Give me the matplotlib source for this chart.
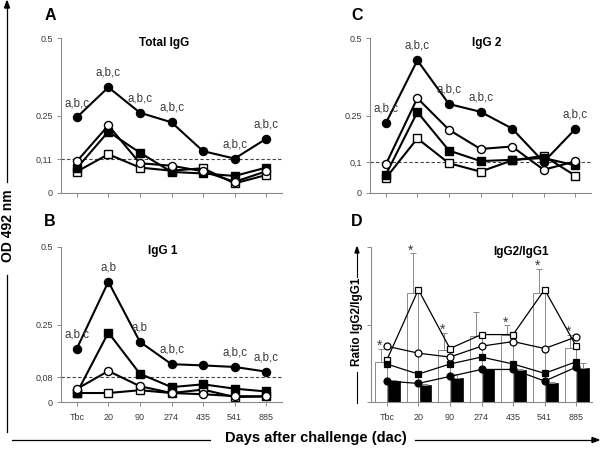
import matplotlib
matplotlib.use('Agg')
import matplotlib.pyplot as plt
import numpy as np

plt.rcParams['font.family'] = ['Liberation Sans', 'DejaVu Sans']

# categories (days after challenge)
days = ['Tbc', '20', '90', '274', '435', '541', '885']

# Panel A - Total IgG (OD 492 nm)
a_fill_circ = [0.244, 0.341, 0.259, 0.228, 0.135, 0.111, 0.175]
a_open_circ = [0.102, 0.218, 0.096, 0.088, 0.070, 0.036, 0.070]
a_fill_sq = [0.080, 0.198, 0.130, 0.068, 0.063, 0.055, 0.082]
a_open_sq = [0.069, 0.125, 0.082, 0.072, 0.080, 0.031, 0.058]
a_cut = 0.11
a_labels = ['a,b,c', 'a,b,c', 'a,b,c', 'a,b,c', '', 'a,b,c', 'a,b,c']

# Panel B - IgG 1
b_fill_circ = [0.172, 0.388, 0.194, 0.122, 0.118, 0.113, 0.098]
b_open_circ = [0.042, 0.100, 0.051, 0.029, 0.025, 0.019, 0.018]
b_fill_sq = [0.029, 0.224, 0.091, 0.048, 0.057, 0.043, 0.034]
b_open_sq = [0.029, 0.029, 0.038, 0.029, 0.040, 0.016, 0.018]
b_cut = 0.08
b_labels = ['a,b,c', 'a,b', 'a,b', 'a,b,c', '', 'a,b,c', 'a,b,c']

# Panel C - IgG 2
c_fill_circ = [0.225, 0.428, 0.287, 0.262, 0.208, 0.100, 0.206]
c_open_circ = [0.092, 0.306, 0.204, 0.142, 0.150, 0.075, 0.102]
c_fill_sq = [0.059, 0.261, 0.137, 0.103, 0.107, 0.113, 0.089]
c_open_sq = [0.048, 0.176, 0.096, 0.069, 0.105, 0.120, 0.056]
c_cut = 0.1
c_labels = ['a,b,c', 'a,b,c', 'a,b,c', 'a,b,c', '', '', 'a,b,c']

# Panel D - IgG2/IgG1 ratio
d_open_bar = [0.51, 1.41, 0.67, 0.85, 0.87, 1.41, 0.70]
d_open_err = [0.18, 0.51, 0.22, 0.31, 0.12, 0.31, 0.17]
d_fill_bar = [0.27, 0.22, 0.31, 0.42, 0.41, 0.25, 0.44]
d_fill_err = [0.02, 0.01, 0.05, 0.01, 0.01, 0.01, 0.06]
d_stars = ['*', '*', '*', '', '*', '*', '*']
d_open_sq = [0.54, 1.45, 0.69, 0.87, 0.87, 1.45, 0.72]
d_open_circ = [0.72, 0.63, 0.58, 0.72, 0.78, 0.69, 0.84]
d_fill_sq = [0.49, 0.36, 0.49, 0.58, 0.49, 0.37, 0.52]
d_fill_circ = [0.27, 0.24, 0.33, 0.42, 0.42, 0.27, 0.45]

W, H = 600, 451
fig = plt.figure(figsize=(6, 4.51), dpi=100)


def fbox(x0, y0, x1, y1):
    return [x0 / W, 1 - y1 / H, (x1 - x0) / W, (y1 - y0) / H]


def fx(x):
    return x / W


def fy(y):
    return 1 - y / H


GRAY = '#8a8a8a'
TXT = '#3a3a3a'


def style_axes(ax, yticks, yticklabels, ymax):
    for s in ['top', 'right']:
        ax.spines[s].set_visible(False)
    for s in ['left', 'bottom']:
        ax.spines[s].set_color(GRAY)
        ax.spines[s].set_linewidth(0.8)
    ax.set_xlim(-0.5, 6.5)
    ax.set_ylim(0, ymax)
    ax.set_xticks(range(len(days)))
    ax.set_xticklabels(days)
    ax.set_yticks(yticks)
    ax.set_yticklabels(yticklabels)
    ax.tick_params(axis='both', colors=GRAY, labelcolor=TXT, labelsize=6.5,
                   length=3, width=0.7, pad=3)
    ax.tick_params(axis='x', pad=5)


def panel_title(ax, text, xpos, ypos):
    ax.text(xpos, ypos, text, transform=ax.transAxes, fontsize=8.5, fontweight='bold',
            ha='center', va='center')


def line_panel(ax, fc, oc, fs, os_, cut, labels, yticks, ytl, show_x):
    x = np.arange(len(days))
    kw = dict(color='black', lw=1.5, ms=5.8, mew=1.0, mec='black')
    ax.plot(x, os_, marker='s', mfc='white', **kw)
    ax.plot(x, fs, marker='s', mfc='black', **kw)
    ax.plot(x, oc, marker='o', mfc='white', **kw)
    ax.plot(x, fc, marker='o', mfc='black', **kw)
    ax.axhline(cut, color='#444444', lw=0.8, ls=(0, (3, 2)), zorder=1)
    for i, lab in enumerate(labels):
        if lab:
            ax.annotate(lab, (x[i], fc[i]), xytext=(0, 6), textcoords='offset points',
                        ha='center', va='bottom', fontsize=8.3, color=TXT)
    style_axes(ax, yticks, ytl, 0.5)
    ax.tick_params(axis='x', labelbottom=show_x)


axA = fig.add_axes(fbox(61, 38, 282, 193))
line_panel(axA, a_fill_circ, a_open_circ, a_fill_sq, a_open_sq, a_cut, a_labels,
           [0, 0.11, 0.25, 0.5], ['0', '0,11', '0.25', '0.5'], False)
panel_title(axA, 'Total IgG', 0.466, 0.965)

axB = fig.add_axes(fbox(61, 247, 282, 402))
line_panel(axB, b_fill_circ, b_open_circ, b_fill_sq, b_open_sq, b_cut, b_labels,
           [0, 0.08, 0.25, 0.5], ['0', '0,08', '0.25', '0.5'], True)
panel_title(axB, 'IgG 1', 0.46, 0.975)

axC = fig.add_axes(fbox(370, 38, 591, 193))
line_panel(axC, c_fill_circ, c_open_circ, c_fill_sq, c_open_sq, c_cut, c_labels,
           [0, 0.1, 0.25, 0.5], ['0', '0,1', '0.25', '0.5'], False)
panel_title(axC, 'IgG 2', 0.53, 0.965)

# Panel D
axD = fig.add_axes(fbox(371, 247, 592, 402))
x = np.arange(len(days))
bw = 0.37
axD.bar(x - bw, d_open_bar, width=bw, align='edge', color='white',
        edgecolor=GRAY, lw=0.7, zorder=2)
axD.errorbar(x - bw / 2, d_open_bar, yerr=[np.zeros(7), d_open_err], fmt='none',
             ecolor=GRAY, elinewidth=0.7, capsize=2, capthick=0.7, zorder=2)
axD.bar(x + 0.04, d_fill_bar, width=bw, align='edge', color='black',
        edgecolor='black', lw=0.5, zorder=2)
axD.errorbar(x + 0.04 + bw / 2, d_fill_bar, yerr=[np.zeros(7), d_fill_err], fmt='none',
             ecolor=GRAY, elinewidth=0.7, capsize=2, capthick=0.7, zorder=2)
for i, s in enumerate(d_stars):
    if s:
        axD.annotate(s, (x[i] - bw / 2 - 0.05, d_open_bar[i] + d_open_err[i]),
                     xytext=(0, -3), textcoords='offset points', ha='center',
                     va='bottom', fontsize=10, color=TXT)
kwd = dict(color='black', lw=0.9, ms=5.0, mew=0.9, mec='black', zorder=3)
axD.plot(x, d_open_sq, marker='s', mfc='white', **kwd)
axD.plot(x, d_open_circ, marker='o', mfc='white', **kwd)
axD.plot(x, d_fill_sq, marker='s', mfc='black', **kwd)
axD.plot(x, d_fill_circ, marker='o', mfc='black', **kwd)
style_axes(axD, [0, 1, 2], ['', '', ''], 2)
panel_title(axD, 'IgG2/IgG1', 0.68, 0.965)

# panel letters
for lab, px, py in [('A', 50, 15), ('B', 50, 222), ('C', 357, 15), ('D', 357, 222)]:
    fig.text(fx(px), fy(py), lab, fontsize=11.5, fontweight='bold', ha='center', va='center')

# big axis labels with arrows
fig.text(fx(8), fy(226), 'OD 492 nm', rotation=90, fontsize=10, fontweight='bold',
         ha='center', va='center')
fig.add_artist(plt.Line2D([fx(7), fx(7)], [fy(432), fy(275)], color='black', lw=0.9))
fig.add_artist(plt.Line2D([fx(7), fx(7)], [fy(182), fy(8)], color='black', lw=0.9))
fig.add_artist(plt.Polygon([[fx(4.5), fy(8)], [fx(9.5), fy(8)], [fx(7), fy(1)]],
                           closed=True, color='black', transform=fig.transFigure))

fig.text(fx(316), fy(438), 'Days after challenge (dac)', fontsize=10.5, fontweight='bold',
         ha='center', va='center')
fig.add_artist(plt.Line2D([fx(12), fx(210)], [fy(440), fy(440)], color='black', lw=0.9))
fig.add_artist(plt.Line2D([fx(415), fx(592)], [fy(440), fy(440)], color='black', lw=0.9))
fig.add_artist(plt.Polygon([[fx(592), fy(437.5)], [fx(592), fy(442.5)], [fx(599), fy(440)]],
                           closed=True, color='black', transform=fig.transFigure))

# ratio label on panel D
fig.text(fx(357), fy(322), 'Ratio IgG2/IgG1', rotation=90, fontsize=8.5, fontweight='bold',
         ha='center', va='center')
fig.add_artist(plt.Line2D([fx(357), fx(357)], [fy(372), fy(403)], color='black', lw=0.8))
fig.add_artist(plt.Line2D([fx(357), fx(357)], [fy(277), fy(253)], color='black', lw=0.8))
fig.add_artist(plt.Polygon([[fx(355), fy(253)], [fx(359), fy(253)], [fx(357), fy(247)]],
                           closed=True, color='black', transform=fig.transFigure))

fig.savefig('out.png', dpi=100)
